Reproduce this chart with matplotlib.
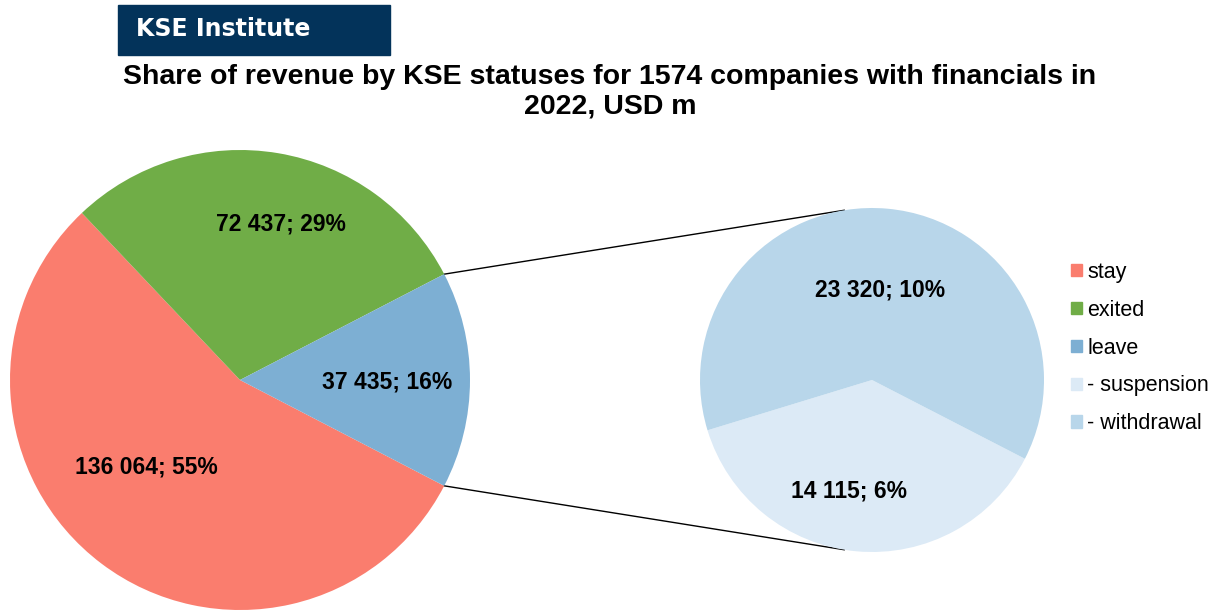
import matplotlib
matplotlib.use("Agg")
import matplotlib.pyplot as plt
from matplotlib.patches import Rectangle, Patch
import numpy as np

# data
main_labels = ["stay", "exited", "leave"]
main_values = [136064, 72437, 37435]
main_pct = [55, 29, 16]   # as printed on the chart
main_colors = ["#FA7D6E", "#70AD47", "#7DAFD3"]

sub_labels = ["- suspension", "- withdrawal"]
sub_values = [14115, 23320]
sub_pct = [6, 10]
sub_colors = ["#DCEAF6", "#B8D6EA"]

title = "Share of revenue by KSE statuses for 1574 companies with financials in\n2022, USD m"
total = sum(main_values)


def fmt(v, p):
    return f"{v:,}".replace(",", " ") + f"; {p}%"


plt.rcParams['font.family'] = ['Liberation Sans', 'DejaVu Sans']

fig = plt.figure(figsize=(12.2, 6.12), dpi=100)
ax = fig.add_axes([0, 0, 1, 1])
ax.set_xlim(0, 1220)
ax.set_ylim(0, 612)
ax.set_aspect('equal')
ax.axis('off')

# main pie, "leave" centred on the right
left_c, left_r = (240, 232), 230
leave_angle = main_values[2] / total * 360
w1, _ = ax.pie(main_values, colors=main_colors, startangle=-leave_angle / 2,
               counterclock=False, center=left_c, radius=left_r, frame=True)

# label placement (fraction of radius, angle shift)
main_pos = [(0.55, -11), (0.71, -5), (0.64, 0)]
for w, v, p, (d, sh) in zip(w1, main_values, main_pct, main_pos):
    a = np.deg2rad((w.theta1 + w.theta2) / 2 + sh)
    ax.text(left_c[0] + d * left_r * np.cos(a), left_c[1] + d * left_r * np.sin(a) - 2, fmt(v, p),
            ha='center', va='center', fontsize=16.5, fontweight='bold')

# breakdown of "leave"
right_c, right_r = (872, 232), 172
w2, _ = ax.pie(sub_values, colors=sub_colors, startangle=197, counterclock=True,
               center=right_c, radius=right_r, frame=True)
sub_pos = [(0.65, -7), (0.535, 0)]
for w, v, p, (d, sh) in zip(w2, sub_values, sub_pct, sub_pos):
    a = np.deg2rad((w.theta1 + w.theta2) / 2 + sh)
    ax.text(right_c[0] + d * right_r * np.cos(a), right_c[1] + d * right_r * np.sin(a) - 2, fmt(v, p),
            ha='center', va='center', fontsize=16.5, fontweight='bold')

# connector lines
for a_from, a_to in [(leave_angle / 2, 99.3), (-leave_angle / 2, 260.7)]:
    p0 = (left_c[0] + left_r * np.cos(np.deg2rad(a_from)), left_c[1] + left_r * np.sin(np.deg2rad(a_from)))
    p1 = (right_c[0] + right_r * np.cos(np.deg2rad(a_to)), right_c[1] + right_r * np.sin(np.deg2rad(a_to)))
    ax.plot([p0[0], p1[0]], [p0[1], p1[1]], color='black', lw=1, zorder=0)

ax.set_xlim(0, 1220)
ax.set_ylim(0, 612)

# legend
handles = [Patch(color=c, label=l) for c, l in zip(main_colors + sub_colors, main_labels + sub_labels)]
ax.legend(handles=handles, loc='upper left', bbox_to_anchor=(1071 / 1220, 1 - 262 / 612),
          frameon=False, fontsize=15.5, handlelength=0.5, handleheight=0.5,
          handletextpad=0.25, labelspacing=0.78, borderpad=0, borderaxespad=0)

# header box
fig.patches.append(Rectangle((118 / 1220, 1 - 55 / 612), 272 / 1220, 50 / 612,
                             transform=fig.transFigure, color='#03335A', zorder=0))
fig.text(136 / 1220, 1 - 29 / 612, "KSE Institute", color='white', fontsize=17,
         fontweight='bold', family='DejaVu Sans', va='center', ha='left')

fig.text(610 / 1220, 1 - 92 / 612, title, ha='center', va='center', fontsize=20.5,
         fontweight='bold', linespacing=1.2)

fig.savefig("out.png", dpi=100, facecolor='white')
